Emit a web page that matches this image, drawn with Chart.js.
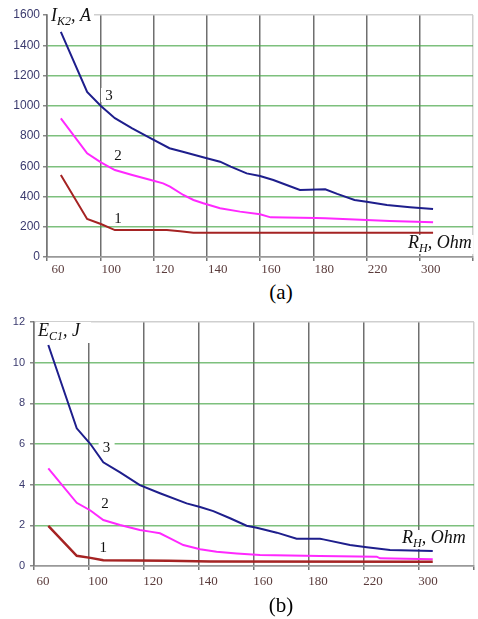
<!DOCTYPE html>
<html>
<head>
<meta charset="utf-8">
<script src="https://cdn.jsdelivr.net/npm/chart.js@4.4.0/dist/chart.umd.min.js"></script>
<style>
  body { margin: 0; background: #fff; width: 478px; height: 619px; position: relative; overflow: hidden; }
  canvas { position: absolute; left: 0; }
  #chartA { top: 0; }
  #chartB { top: 310px; }
  .cap { position: absolute; width: 60px; text-align: center; font-family: "Liberation Serif", serif; font-size: 21px; color: #000; }
</style>
</head>
<body>
<canvas id="chartA" width="478" height="280"></canvas>
<canvas id="chartB" width="478" height="290"></canvas>
<div class="cap" style="left:251px; top:280px">(a)</div>
<div class="cap" style="left:251px; top:593px">(b)</div>
<script>
// x axis: R_H, Ohm (tick values are not evenly spaced, one grid cell each)
var xTicks = [60, 100, 120, 140, 160, 180, 220, 300];
// where each R_H tick value sits, in grid cells from the y axis
var xTickPos = [0.26, 1.2, 2.2, 3.2, 4.2, 5.2, 6.2, 7.25];

// (a) short-circuit current I_K2, A
var rA3 = [60, 81, 92, 101.5, 108, 115, 122, 127, 136, 141, 145, 151, 156, 161, 166, 171, 181, 190, 203, 212, 234, 267, 300];
var iA3 = [1488, 1091, 998, 918, 851, 785, 719, 696, 653, 630, 597, 553, 536, 509, 476, 443, 448, 417, 377, 366, 344, 329, 317];
var rA2 = [60, 81, 92, 101.5, 108, 115, 119.6, 122.2, 127.2, 131, 134.7, 141, 148.5, 156, 160, 177, 181, 212, 238, 300];
var iA2 = [917, 686, 626, 575, 542, 509, 487, 465, 410, 377, 355, 322, 300, 282, 262, 258, 256, 245, 238, 229];
var rA1 = [60, 81, 92, 101.5, 121, 126, 131, 300];
var iA1 = [542, 251, 218, 178, 178, 170, 161, 161];

// (b) energy E_C1, J
var rB3 = [60, 82, 92.6, 101.2, 107.3, 114.5, 121.8, 131.5, 136.4, 141.2, 147.3, 153.3, 157, 164.3, 171.5, 180, 182.4, 201.8, 214, 240.8, 300];
var eB3 = [10.87, 6.77, 6.0, 5.1, 4.6, 3.98, 3.58, 3.08, 2.9, 2.7, 2.35, 1.98, 1.88, 1.64, 1.34, 1.34, 1.31, 1.03, 0.92, 0.79, 0.74];
var rB2 = [60, 82, 92.6, 101.2, 107.3, 114.5, 118.2, 121.8, 125.5, 130.3, 136.4, 142.4, 149.7, 158.2, 180, 222.4, 226.9, 300];
var eB2 = [4.8, 3.11, 2.73, 2.26, 2.02, 1.77, 1.69, 1.61, 1.36, 1.03, 0.82, 0.7, 0.62, 0.54, 0.49, 0.46, 0.38, 0.33];
var rB1 = [60, 82, 92.6, 101.2, 125, 140, 300];
var eB1 = [1.97, 0.5, 0.4, 0.28, 0.26, 0.22, 0.21];

// curve numbers, placed in data units
var labA = [{ t: "3", r: 98.5, v: 1071 }, { t: "2", r: 102.7, v: 674 }, { t: "1", r: 102.7, v: 258 }];
var labB = [{ t: "3", r: 102.4, v: 5.85 }, { t: "2", r: 101.8, v: 3.1 }, { t: "1", r: 101.2, v: 0.93 }];

var colors = { c1: "rgb(165,35,35)", c2: "rgb(255,40,255)", c3: "rgb(30,30,140)" };

// R_H -> position along the x axis (piecewise between ticks)
function toAxis(r) {
  for (var i = 1; i < xTicks.length; i++) {
    if (r <= xTicks[i]) {
      var t = (r - xTicks[i - 1]) / (xTicks[i] - xTicks[i - 1]);
      return xTickPos[i - 1] + t * (xTickPos[i] - xTickPos[i - 1]);
    }
  }
  return xTickPos[xTickPos.length - 1];
}

function series(r, v) {
  return r.map(function (x, i) { return { x: toAxis(x), y: v[i] }; });
}

// italic text with subscript parts, white box behind it
function drawRich(ctx, parts, x, y, size, pad) {
  var w = 0;
  parts.forEach(function (p) {
    ctx.font = "italic " + (p.sub ? Math.round(size * 0.65) : size) + 'px "Liberation Serif"';
    p.w = ctx.measureText(p.t).width;
    w += p.w;
  });
  ctx.fillStyle = "#fff";
  ctx.fillRect(x - pad[0], y - pad[1], w + pad[0] + pad[2], pad[1] + pad[3]);
  ctx.fillStyle = "#111";
  ctx.textAlign = "left";
  ctx.textBaseline = "alphabetic";
  parts.forEach(function (p) {
    ctx.font = "italic " + (p.sub ? Math.round(size * 0.65) : size) + 'px "Liberation Serif"';
    ctx.fillText(p.t, x, y + (p.sub ? 4 : 0));
    x += p.w;
  });
}

function makeChart(id, o) {
  var decor = {
    id: "decor",
    beforeDatasetsDraw: function (chart) {
      var ctx = chart.ctx, a = chart.chartArea;
      var xs = chart.scales.x, ys = chart.scales.y;
      ctx.save();
      drawRich(ctx, o.yTitle, a.left + o.yTitlePos[0], a.top + o.yTitlePos[1], 18, o.yTitlePad);
      drawRich(ctx, [{ t: "R" }, { t: "H", sub: true }, { t: ", Ohm" }],
        a.right + o.xTitlePos[0], a.bottom + o.xTitlePos[1], 18, [2, 13, 2, 6]);
      // curve numbers
      ctx.font = '15px "Liberation Serif"';
      ctx.textAlign = "center";
      ctx.textBaseline = "middle";
      o.labels.forEach(function (l) {
        var px = xs.getPixelForValue(toAxis(l.r)), py = ys.getPixelForValue(l.v);
        ctx.fillStyle = "#fff";
        ctx.fillRect(px - 8, py - 7, 16, 14);
        ctx.fillStyle = "#111";
        ctx.fillText(l.t, px, py + 1);
      });
      ctx.restore();
    },
  };

  return new Chart(document.getElementById(id), {
    type: "line",
    data: {
      datasets: [
        { data: series(o.r[0], o.v[0]), borderColor: colors.c1, borderWidth: o.w1 },
        { data: series(o.r[1], o.v[1]), borderColor: colors.c2, borderWidth: 2 },
        { data: series(o.r[2], o.v[2]), borderColor: colors.c3, borderWidth: 2 },
      ],
    },
    options: {
      responsive: false,
      devicePixelRatio: 1,
      animation: false,
      elements: { point: { radius: 0 }, line: { tension: 0, fill: false } },
      layout: { padding: { top: o.padTop, right: o.padRight, left: 0, bottom: 0 } },
      plugins: { legend: { display: false }, tooltip: { enabled: false } },
      scales: {
        x: {
          type: "linear",
          min: 0,
          max: 8,
          afterBuildTicks: function (s) {
            s.ticks = [0, 1, 2, 3, 4, 5, 6, 7, 8].map(function (v) { return { value: v }; });
          },
          afterFit: function (s) { s.height = o.xHeight; },
          ticks: {
            autoSkip: false,
            maxRotation: 0,
            labelOffset: o.labelOffset,
            padding: o.xPad,
            color: "#5a3b3b",
            font: { family: "Liberation Serif", size: 13 },
            callback: function (v, i) { return i < xTicks.length ? String(xTicks[i]) : ""; },
          },
          grid: {
            color: function (c) { return c.index === 8 ? "#cfcfcf" : "rgba(50,50,50,0.7)"; },
            lineWidth: 1.5,
            tickLength: 4,
            tickColor: "#777",
          },
          border: { color: "#999", width: 1.5 },
        },
        y: {
          min: 0,
          max: o.yMax,
          ticks: {
            stepSize: o.yStep,
            padding: o.yPad,
            color: "#3a3a6e",
            font: { family: "Liberation Sans", size: o.yFont },
            callback: function (v) { return String(v); },
          },
          afterFit: function (s) { s.width = o.yWidth; },
          grid: {
            color: function (c) {
              if (c.tick.value === 0) return "#999";
              if (c.tick.value === o.yMax) return "#cfcfcf";
              return "rgba(70,165,70,0.7)";
            },
            lineWidth: 1.5,
            tickLength: 4,
            tickColor: "#888",
          },
          border: { color: "#777", width: 1.5 },
        },
      },
    },
    plugins: [decor],
  });
}

makeChart("chartA", {
  r: [rA1, rA2, rA3], v: [iA1, iA2, iA3], w1: 2,
  yMax: 1600, yStep: 200, yFont: 12, yPad: 3, yWidth: 47,
  padTop: 15, padRight: 5, xHeight: 23, xPad: 1, labelOffset: 11,
  yTitle: [{ t: "I" }, { t: "K2", sub: true }, { t: ", A" }],
  yTitlePos: [4, 6], yTitlePad: [3, 14, 3, 5],
  xTitlePos: [-65, -9],
  labels: labA,
});

makeChart("chartB", {
  r: [rB1, rB2, rB3], v: [eB1, eB2, eB3], w1: 2.5,
  yMax: 12, yStep: 2, yFont: 11, yPad: 5, yWidth: 34,
  padTop: 12, padRight: 4, xHeight: 34, xPad: 4, labelOffset: 9,
  yTitle: [{ t: "E" }, { t: "C1", sub: true }, { t: ", J" }],
  yTitlePos: [4, 14], yTitlePad: [2, 14, 11, 7],
  xTitlePos: [-72, -23],
  labels: labB,
});
</script>
</body>
</html>
